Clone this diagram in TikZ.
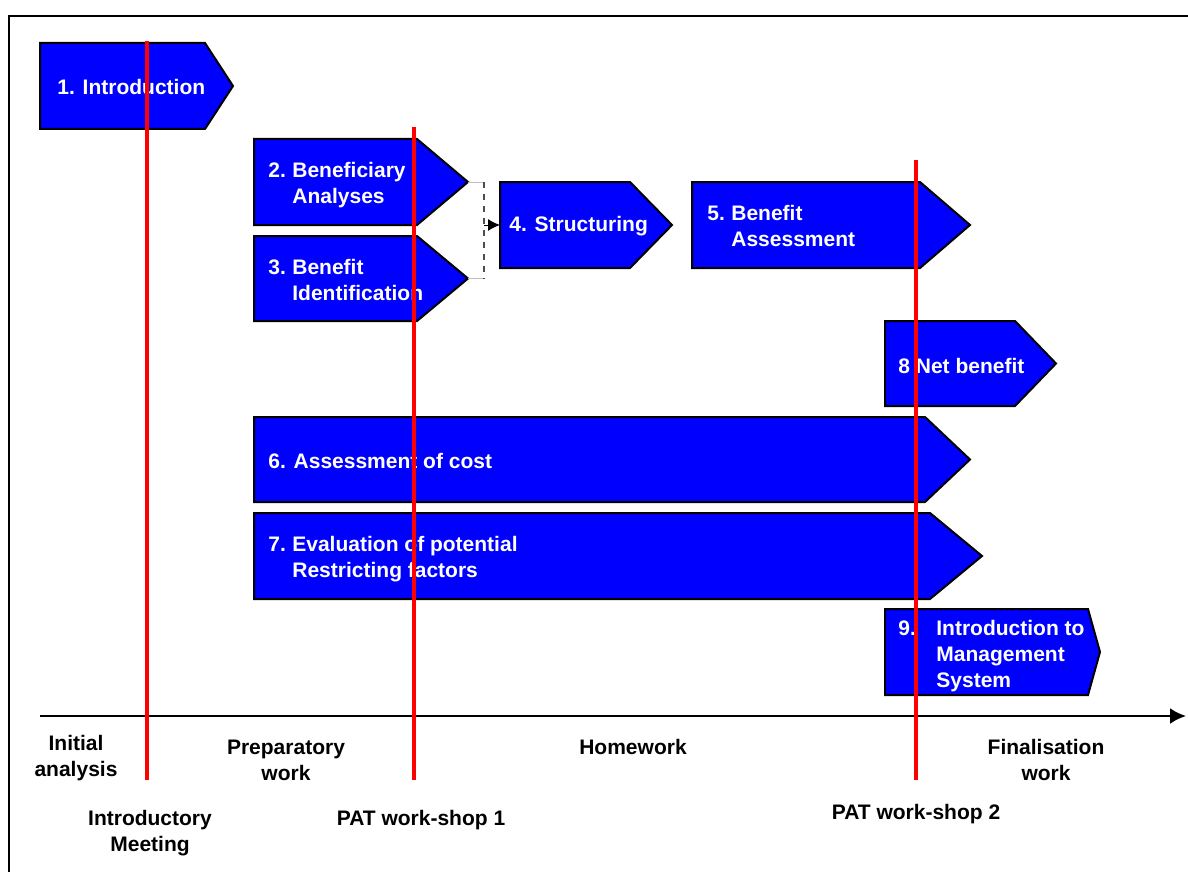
\documentclass[tikz,border=0pt]{standalone}
\usepackage{fontspec}
\setmainfont{Liberation Sans}
\usepackage{tikz}
\usetikzlibrary{positioning,calc,arrows.meta}
\definecolor{stageblue}{RGB}{0,0,255}

% one chevron: name, left, right, tip, top, bottom
\newcommand{\stage}[6]{%
  \draw[stagebox] (#2,#5) -- (#3,#5) -- (#4,{(#5+#6)/2}) -- (#3,#6) -- (#2,#6) -- cycle;
  \coordinate (#1-tip) at (#4,{(#5+#6)/2});
  \coordinate (#1-w) at (#2,{(#5+#6)/2});
}

\begin{document}
\begin{tikzpicture}[x=0.5pt, y=-0.5pt, every node/.style={font=\fontsize{10.5}{13}\selectfont\bfseries}]
  \tikzstyle{stagebox}=[draw=black, line width=1pt, fill=stageblue]
  \tikzstyle{stagetext}=[text=white, anchor=west, align=left, inner sep=0pt]
  \tikzstyle{phase}=[text=black, align=center, inner sep=0pt]
  \tikzstyle{milestone}=[draw=red, line width=1.8pt]
  \useasboundingbox (0,0) rectangle (1188,872);
  \draw[line width=1pt] (1188,16) -- (9,16) -- (9,872);

  \stage{intro}{40}{205}{233}{43}{129}
  \stage{benef}{254}{417}{468}{139}{225}
  \stage{ident}{254}{417}{468}{236}{321}
  \stage{struct}{500}{630}{672}{182}{268}
  \stage{assess}{692}{920}{970}{182}{268}
  \stage{net}{885}{1015}{1056}{321}{406}
  \stage{cost}{254}{925}{970}{417}{502}
  \stage{restrict}{254}{930}{982}{513}{599}
  \stage{mgmt}{885}{1088}{1100}{609}{695}

  \node[stagetext] (introtext) at ($(intro-w)+(17,1)$) {1. Introduction};
  \node[stagetext] (beneftext) at ($(benef-w)+(14,3)$) {\begin{tabular}{@{}p{12pt}@{}l@{}}2. & Beneficiary\\ & Analyses\end{tabular}};
  \node[stagetext] (identtext) at ($(ident-w)+(14,4)$) {\begin{tabular}{@{}p{12pt}@{}l@{}}3. & Benefit\\ & Identification\end{tabular}};
  \node[stagetext] (structtext) at ($(struct-w)+(9,1)$) {4. Structuring};
  \node[stagetext] (assesstext) at ($(assess-w)+(15,3)$) {\begin{tabular}{@{}p{12pt}@{}l@{}}5. & Benefit\\ & Assessment\end{tabular}};
  \node[stagetext] (nettext) at ($(net-w)+(13,2)$) {8 Net benefit};
  \node[stagetext] (costtext) at ($(cost-w)+(14,1)$) {6. Assessment of cost};
  \node[stagetext] (restricttext) at ($(restrict-w)+(14,3)$) {\begin{tabular}{@{}p{12pt}@{}l@{}}7. & Evaluation of potential\\ & Restricting factors\end{tabular}};
  \node[stagetext] (mgmttext) at ($(mgmt-w)+(13,4)$) {\begin{tabular}{@{}p{19pt}@{}l@{}}9. & Introduction to\\ & Management\\ & System\end{tabular}};

  % 2 and 3 feed into 4
  \coordinate (join) at ($(benef-tip)!0.5!(ident-tip)+(16,0)$);
  \draw[gray!50, line width=0.5pt] (benef-tip) -- (benef-tip -| join);
  \draw[gray!50, line width=0.5pt] (ident-tip) -- (ident-tip -| join);
  \draw[black!70, dashed, line width=0.6pt] (benef-tip -| join) -- (ident-tip -| join);
  \draw[-{Latex[length=6pt,width=6pt]}, line width=0.5pt] (join |- struct-w) -- (struct-w);

  % time axis
  \coordinate (axisstart) at (40,716);
  \coordinate (axisend) at (1186,716);
  \draw[line width=1.2pt, -{Latex[length=8pt,width=8pt]}] (axisstart) -- (axisend);

  \node[phase] (initial) at (76,758) {Initial\\analysis};
  \node[phase] (prep) at (286,760) {Preparatory\\work};
  \node[phase] (home) at (633,747) {Homework};
  \node[phase] (final) at (1046,760) {Finalisation\\work};
  \node[phase] (meeting) at (150,833) {Introductory\\Meeting};
  \node[phase] (pat1) at (421,820) {PAT work-shop 1};
  \node[phase] (pat2) at (916,814) {PAT work-shop 2};

  % workshops and meetings
  \draw[milestone] (147,41) -- (147,780);
  \draw[milestone] (414,127) -- (414,780);
  \draw[milestone] (916,160) -- (916,780);
\end{tikzpicture}
\end{document}
